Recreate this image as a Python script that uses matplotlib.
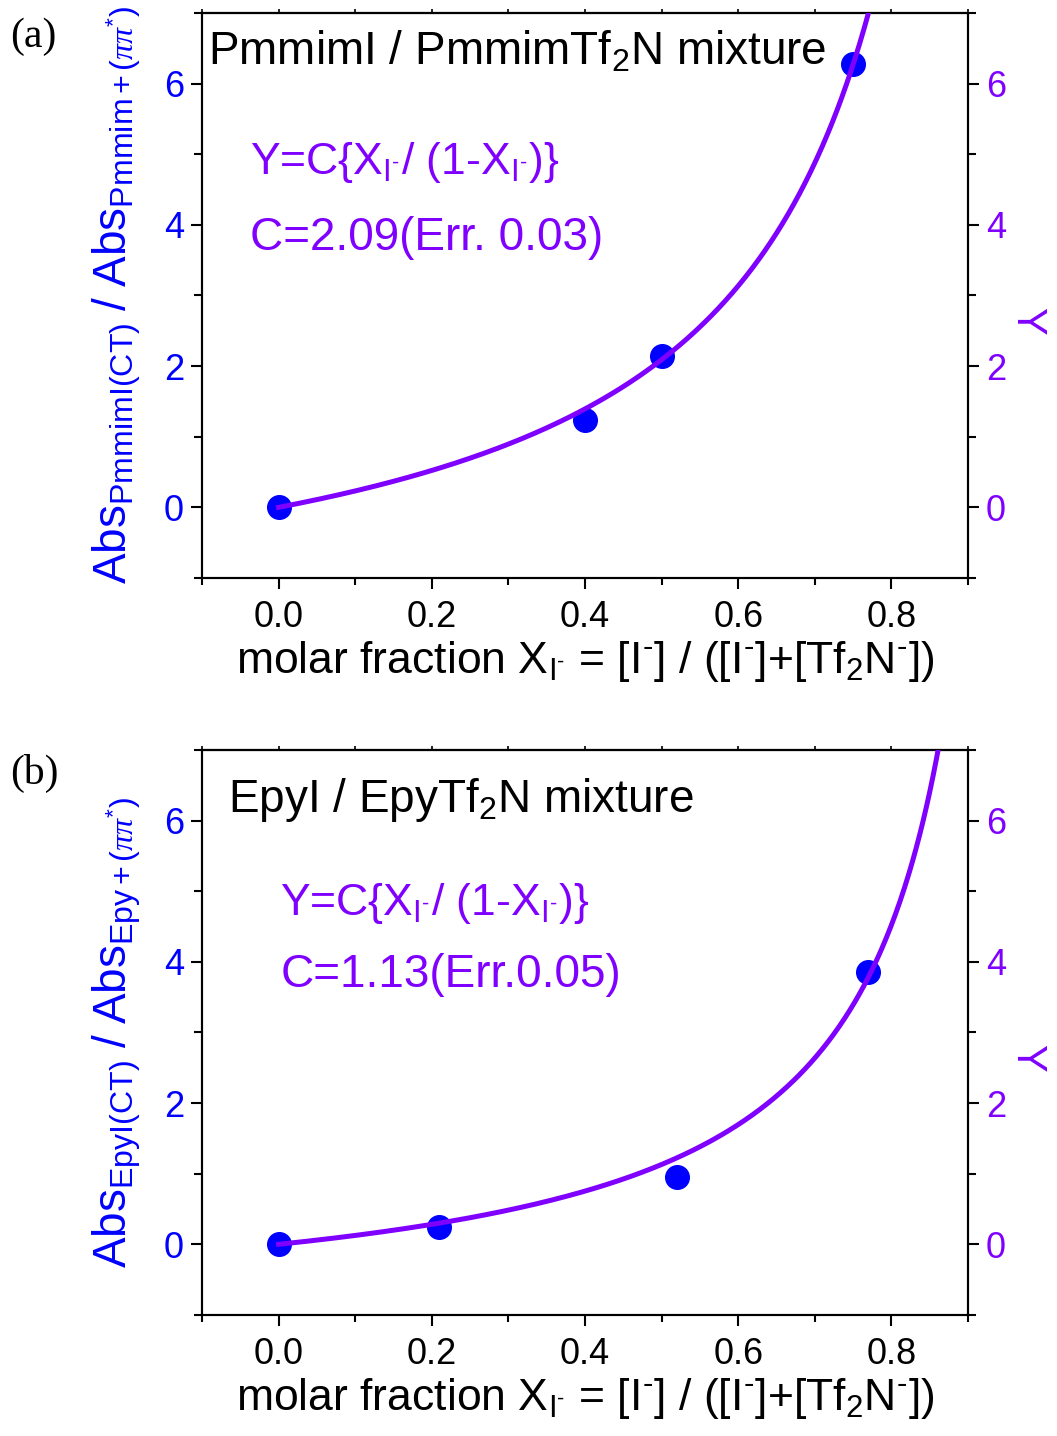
#!/usr/bin/env python3
import numpy as np
import matplotlib
matplotlib.use('Agg')
import matplotlib.pyplot as plt
from matplotlib.ticker import MultipleLocator

# measured Abs ratios vs molar fraction of I-
xa = [0.0, 0.40, 0.50, 0.75]
ya = [0.0, 1.23, 2.14, 6.27]
xb = [0.0, 0.21, 0.52, 0.77]
yb = [0.0, 0.24, 0.95, 3.85]

# fitted constants for Y = C * X / (1 - X)
c_a, err_a = 2.09, 0.03
c_b, err_b = 1.13, 0.05

MINUS = r'^{\text{-}}'
titles = ['PmmimI / PmmimTf$_2$N mixture', 'EpyI / EpyTf$_2$N mixture']
ylabels = [
    r'$\mathrm{Abs_{PmmimI(CT)}\ /\ Abs_{Pmmim+(\mathit{\pi\pi}^{*})}}$',
    r'$\mathrm{Abs_{EpyI(CT)}\ /\ Abs_{Epy+(\mathit{\pi\pi}^{*})}}$',
]
xlabel = ('molar fraction X$_{\\mathrm{I}%s}$ = [I$%s$] / ([I$%s$]+[Tf$_2$N$%s$])'
          % (MINUS, MINUS, MINUS, MINUS))
eq_text = 'Y=C{X$_{\\mathrm{I}%s}$/ (1-X$_{\\mathrm{I}%s}$)}' % (MINUS, MINUS)
err_texts = ['C=%.2f(Err. %.2f)' % (c_a, err_a), 'C=%.2f(Err.%.2f)' % (c_b, err_b)]
panel_tags = ['(a)', '(b)']

BLUE = '#0000FF'
PURPLE = '#7F00FF'

plt.rcParams['font.family'] = ['Liberation Sans', 'DejaVu Sans']
plt.rcParams['mathtext.fontset'] = 'custom'
plt.rcParams['mathtext.rm'] = 'Liberation Sans'
plt.rcParams['mathtext.it'] = 'Liberation Serif:italic'
plt.rcParams['mathtext.default'] = 'rm'

fig = plt.figure(figsize=(10.57, 14.36), dpi=100)

boxes = [[0.1911, 0.5975, 0.7247, 0.3935], [0.1911, 0.0843, 0.7247, 0.3935]]
data = [(xa, ya, c_a), (xb, yb, c_b)]
title_pos = [(0.008, 0.931), (0.034, 0.911)]
eq_pos = [(0.063, 0.735, 0.602), (0.102, 0.729, 0.602)]
tag_y = [0.988, 0.475]

for i, (box, (xs, ys, c)) in enumerate(zip(boxes, data)):
    ax = fig.add_axes(box)
    ax2 = ax.twinx()

    xfit = np.linspace(0, 0.895, 600)
    ax.scatter(xs, ys, s=17**2, color=BLUE, zorder=3, clip_on=False)
    ax2.plot(xfit, c * xfit / (1 - xfit), color=PURPLE, lw=3.6, zorder=4)

    for a in (ax, ax2):
        a.set_xlim(-0.1, 0.9)
        a.set_ylim(-1, 7)
        for sp in a.spines.values():
            sp.set_linewidth(1.5)

    ax.xaxis.set_major_locator(MultipleLocator(0.2))
    ax.xaxis.set_minor_locator(MultipleLocator(0.1))
    ax.yaxis.set_major_locator(MultipleLocator(2))
    ax.yaxis.set_minor_locator(MultipleLocator(1))
    ax2.yaxis.set_major_locator(MultipleLocator(2))
    ax2.yaxis.set_minor_locator(MultipleLocator(1))
    ax.xaxis.set_major_formatter(plt.FormatStrFormatter('%.1f'))

    ax.tick_params(axis='x', which='both', direction='out', width=1.5)
    ax.tick_params(axis='x', which='major', length=8, labelsize=26, pad=8)
    ax.tick_params(axis='x', which='minor', length=5)
    ax.tick_params(axis='y', which='both', direction='out', width=1.5, labelcolor=BLUE)
    ax.tick_params(axis='y', which='major', length=8, labelsize=26, pad=5)
    ax.tick_params(axis='y', which='minor', length=6)
    ax2.tick_params(axis='y', which='both', direction='out', width=1.5, labelcolor=PURPLE)
    ax2.tick_params(axis='y', which='major', length=8, labelsize=26, pad=5)
    ax2.tick_params(axis='y', which='minor', length=6)

    # short ticks along the top edge
    top = ax.secondary_xaxis('top')
    top.xaxis.set_major_locator(MultipleLocator(0.2))
    top.xaxis.set_minor_locator(MultipleLocator(0.1))
    top.tick_params(which='both', direction='out', length=3, width=1.2, labeltop=False)
    top.spines['top'].set_linewidth(1.5)

    ax.set_xlabel(xlabel, fontsize=32, labelpad=3)
    ax.set_ylabel(ylabels[i], fontsize=33, color=BLUE, labelpad=15)
    ax2.set_ylabel('Y', fontsize=30, color=PURPLE, rotation=270, va='center')
    ax2.yaxis.set_label_coords(1.077, 0.455)

    tx, ty = title_pos[i]
    ax.text(tx, ty, titles[i], transform=ax.transAxes, fontsize=33,
            ha='left', va='center', color='black')
    ex, ey1, ey2 = eq_pos[i]
    ax.text(ex, ey1, eq_text, transform=ax.transAxes,
            fontsize=32, ha='left', va='center', color=PURPLE)
    ax.text(ex, ey2, err_texts[i], transform=ax.transAxes, fontsize=33,
            ha='left', va='center', color=PURPLE)

    fig.text(0.01, tag_y[i], panel_tags[i], fontsize=30, family='Liberation Serif',
             ha='left', va='top')

fig.savefig('out.png', dpi=100)
